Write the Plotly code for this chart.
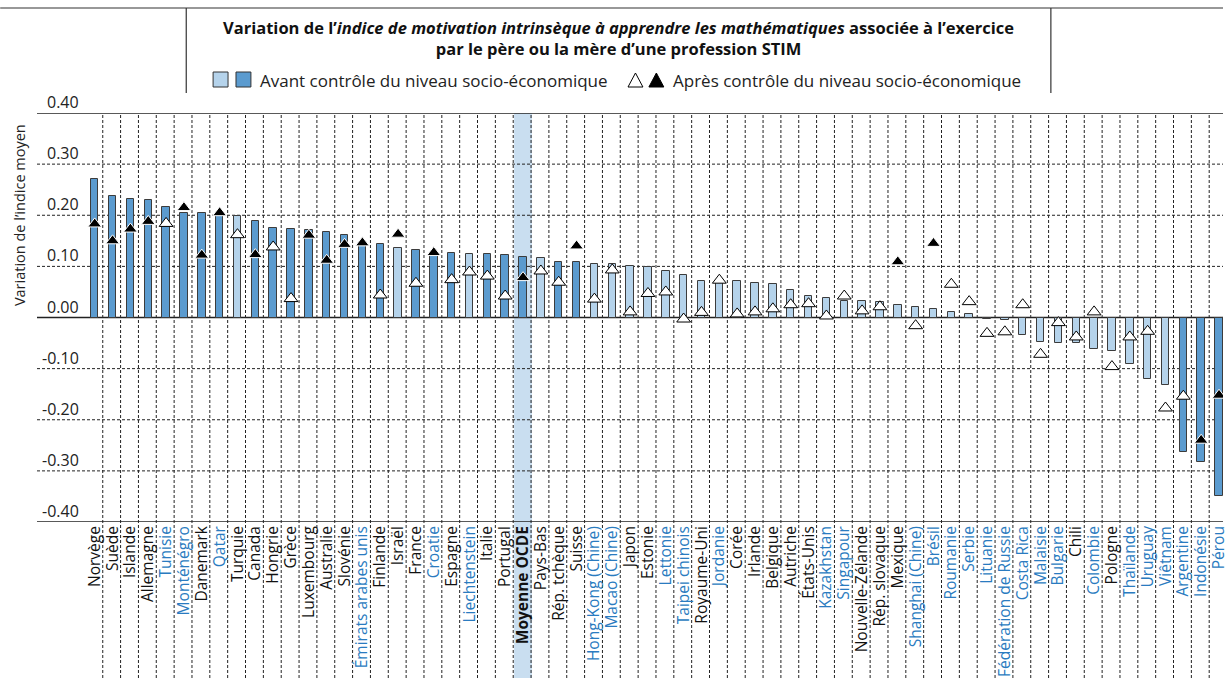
import plotly.graph_objects as go

# categories (ordered as in the chart)
countries = ["Norvège", "Suède", "Islande", "Allemagne", "Tunisie", "Monténégro", "Danemark", "Qatar",
             "Turquie", "Canada", "Hongrie", "Grèce", "Luxembourg", "Australie", "Slovénie",
             "Émirats arabes unis", "Finlande", "Israël", "France", "Croatie", "Espagne", "Liechtenstein",
             "Italie", "Portugal", "Moyenne OCDE", "Pays-Bas", "Rép. tchèque", "Suisse",
             "Hong-Kong (Chine)", "Macao (Chine)", "Japon", "Estonie", "Lettonie", "Taipei chinois",
             "Royaume-Uni", "Jordanie", "Corée", "Irlande", "Belgique", "Autriche", "États-Unis",
             "Kazakhstan", "Singapour", "Nouvelle-Zélande", "Rép. slovaque", "Mexique",
             "Shanghai (Chine)", "Brésil", "Roumanie", "Serbie", "Lituanie", "Fédération de Russie",
             "Costa Rica", "Malaisie", "Bulgarie", "Chili", "Colombie", "Pologne", "Thaïlande",
             "Uruguay", "Viêtnam", "Argentine", "Indonésie", "Pérou"]

partners = ["Tunisie", "Monténégro", "Qatar", "Émirats arabes unis", "Croatie", "Liechtenstein",
            "Hong-Kong (Chine)", "Macao (Chine)", "Lettonie", "Taipei chinois", "Jordanie",
            "Kazakhstan", "Singapour", "Shanghai (Chine)", "Brésil", "Roumanie", "Serbie", "Lituanie",
            "Fédération de Russie", "Costa Rica", "Malaisie", "Bulgarie", "Colombie", "Thaïlande",
            "Uruguay", "Viêtnam", "Argentine", "Indonésie", "Pérou"]

# before controlling for socio-economic status (bars)
before = [0.271, 0.237, 0.232, 0.230, 0.217, 0.205, 0.204, 0.200, 0.198, 0.189, 0.175, 0.173,
          0.171, 0.168, 0.162, 0.145, 0.143, 0.136, 0.132, 0.127, 0.126, 0.125, 0.124, 0.123,
          0.119, 0.116, 0.109, 0.108, 0.104, 0.104, 0.101, 0.098, 0.091, 0.084, 0.072, 0.072,
          0.071, 0.067, 0.065, 0.053, 0.043, 0.039, 0.032, 0.032, 0.031, 0.024, 0.020, 0.016,
          0.011, 0.006, -0.002, -0.005, -0.035, -0.048, -0.050, -0.050, -0.061, -0.066, -0.091,
          -0.121, -0.132, -0.263, -0.283, -0.349]
before_sig = [1, 1, 1, 1, 1, 1, 1, 1, 0, 1, 1, 1, 1, 1, 1, 1, 1, 0, 1, 1, 1, 0, 1, 1, 1, 0, 1, 1,
              0, 0, 0, 0, 0, 0, 0, 0, 0, 0, 0, 0, 0, 0, 0, 0, 0, 0, 0, 0, 0, 0, 0, 0, 0, 0, 0, 0,
              0, 0, 0, 0, 0, 1, 1, 1]

# after controlling for socio-economic status (triangles)
after = [0.183, 0.150, 0.173, 0.188, 0.184, 0.215, 0.122, 0.205, 0.162, 0.123, 0.138, 0.037,
         0.161, 0.112, 0.143, 0.146, 0.044, 0.163, 0.067, 0.127, 0.074, 0.089, 0.081, 0.042,
         0.078, 0.091, 0.069, 0.140, 0.036, 0.093, 0.011, 0.047, 0.050, -0.003, 0.010, 0.073,
         0.007, 0.011, 0.017, 0.025, 0.027, 0.003, 0.042, 0.013, 0.021, 0.109, -0.016, 0.145,
         0.065, 0.031, -0.031, -0.028, 0.025, -0.072, -0.010, -0.038, 0.011, -0.096, -0.038,
         -0.027, -0.177, -0.154, -0.240, -0.152]
after_sig = [1, 1, 1, 1, 0, 1, 1, 1, 0, 1, 0, 0, 1, 1, 1, 1, 0, 1, 0, 1, 0, 0, 0, 0, 1, 0, 0, 1,
             0, 0, 0, 0, 0, 0, 0, 0, 0, 0, 0, 0, 0, 0, 0, 0, 0, 1, 0, 1, 0, 0, 0, 0, 0, 0, 0, 0,
             0, 0, 0, 0, 0, 0, 1, 1]

y_ticks = [0.40, 0.30, 0.20, 0.10, 0.00, -0.10, -0.20, -0.30, -0.40]

FONT = "Open Sans"
DARK = "#5B9BCF"
LIGHT = "#B5D3EB"
BLUE_TXT = "#2A7BC0"
W, H = 1229, 678
L, R, T, B = 37, 0, 113, 156


def px(x):
    return (x - L) / (W - L - R)


def py(y):
    return (H - B - y) / (H - T - B)


n = len(countries)
xs = list(range(n))

ticktext = []
for c in countries:
    if c == "Moyenne OCDE":
        ticktext.append("<b>Moyenne OCDE</b>")
    elif c in partners:
        ticktext.append(f"<span style='color:{BLUE_TXT}'>{c}</span>")
    else:
        ticktext.append(c)

fig = go.Figure()

fig.add_trace(go.Bar(
    x=xs, y=before, width=0.42,
    marker=dict(color=[DARK if s else LIGHT for s in before_sig],
                line=dict(color="#3c3c3c", width=1)),
    showlegend=False, hoverinfo="skip"
))

fig.add_trace(go.Scatter(
    x=xs, y=after, mode="markers",
    marker=dict(symbol="triangle-up", size=12,
                color=["black" if s else "white" for s in after_sig],
                line=dict(color=["white" if s else "black" for s in after_sig], width=1)),
    showlegend=False, hoverinfo="skip"
))

shapes = []
# OECD average highlight
oecd = countries.index("Moyenne OCDE")
shapes.append(dict(type="rect", xref="x", yref="paper", x0=oecd - 0.5, x1=oecd + 0.5,
                   y0=py(H), y1=1, fillcolor="#C9DEF0", line=dict(width=0), layer="below"))

# horizontal lines
for v in y_ticks:
    solid = v in (0.40, 0.00, -0.40)
    shapes.append(dict(type="line", xref="paper", yref="y", x0=0, x1=1, y0=v, y1=v,
                       line=dict(color="#222", width=1.5 if solid else 1,
                                 dash="solid" if solid else "3px,2px"),
                       layer="below"))

# vertical dashed separators (plot + label area)
for i in range(n - 1):
    shapes.append(dict(type="line", xref="x", yref="paper", x0=i + 0.45, x1=i + 0.45,
                       y0=py(H), y1=1, line=dict(color="#222", width=1, dash="3px,2px"),
                       layer="below"))

# header box
shapes.append(dict(type="line", xref="paper", yref="paper", x0=px(0), x1=px(W), y0=py(8), y1=py(8),
                   line=dict(color="#333", width=1.2)))
for xb in (187, 1056):
    shapes.append(dict(type="line", xref="paper", yref="paper", x0=px(xb), x1=px(xb),
                       y0=py(93), y1=py(8), line=dict(color="#333", width=1.2)))

# legend squares
for x0, col in ((214, LIGHT), (237, DARK)):
    shapes.append(dict(type="rect", xref="paper", yref="paper", x0=px(x0), x1=px(x0 + 15),
                       y0=py(87), y1=py(72), fillcolor=col, line=dict(color="#333", width=1)))

# legend triangles
for x0, col in ((631, "white"), (652, "black")):
    path = (f"M {px(x0)},{py(87)} L {px(x0 + 15)},{py(87)} L {px(x0 + 7.5)},{py(73)} Z")
    shapes.append(dict(type="path", xref="paper", yref="paper", path=path,
                       fillcolor=col, line=dict(color="black", width=1)))

annotations = []
for v in y_ticks:
    annotations.append(dict(xref="paper", yref="y", x=px(81), y=v, text=f"{v:.2f}",
                            showarrow=False, xanchor="right", yanchor="bottom", yshift=-2,
                            font=dict(family=FONT, size=16, color="#222")))

annotations.append(dict(xref="paper", yref="paper", x=px(19), y=py(215),
                        xanchor="center", yanchor="middle",
                        text="Variation de l’indice moyen", textangle=-90, showarrow=False,
                        font=dict(family=FONT, size=14.5, color="#222")))

annotations.append(dict(xref="paper", yref="paper", x=px(621), y=py(38),
                        text="<b>Variation de l’<i>indice de motivation intrinsèque à apprendre les "
                             "mathématiques</i> associée à l’exercice<br>par le père ou la mère "
                             "d’une profession STIM</b>",
                        showarrow=False, xanchor="center", yanchor="middle",
                        font=dict(family=FONT, size=16.5, color="#111")))

annotations.append(dict(xref="paper", yref="paper", x=px(259), y=py(80),
                        text="Avant contrôle du niveau socio-économique", showarrow=False,
                        xanchor="left", yanchor="middle",
                        font=dict(family=FONT, size=17, color="#222")))
annotations.append(dict(xref="paper", yref="paper", x=px(674), y=py(80),
                        text="Après contrôle du niveau socio-économique", showarrow=False,
                        xanchor="left", yanchor="middle",
                        font=dict(family=FONT, size=17, color="#222")))

fig.update_layout(
    width=W, height=H,
    margin=dict(l=L, r=R, t=T, b=B),
    plot_bgcolor="rgba(0,0,0,0)",
    paper_bgcolor="white",
    shapes=shapes,
    annotations=annotations,
    bargap=0,
    xaxis=dict(range=[-3.234, 63.223], tickmode="array", tickvals=xs, ticktext=ticktext,
               tickangle=-90, tickfont=dict(family=FONT, size=15.5, color="#111"),
               ticklabeloverflow="allow",
               showgrid=False, zeroline=False, showline=False, ticks=""),
    yaxis=dict(range=[-0.40, 0.40], showticklabels=False, showgrid=False, zeroline=False,
               showline=False, ticks=""),
)

fig.write_html("out.html", config={"displayModeBar": False},
               post_script="document.body.style.margin='0px';")
